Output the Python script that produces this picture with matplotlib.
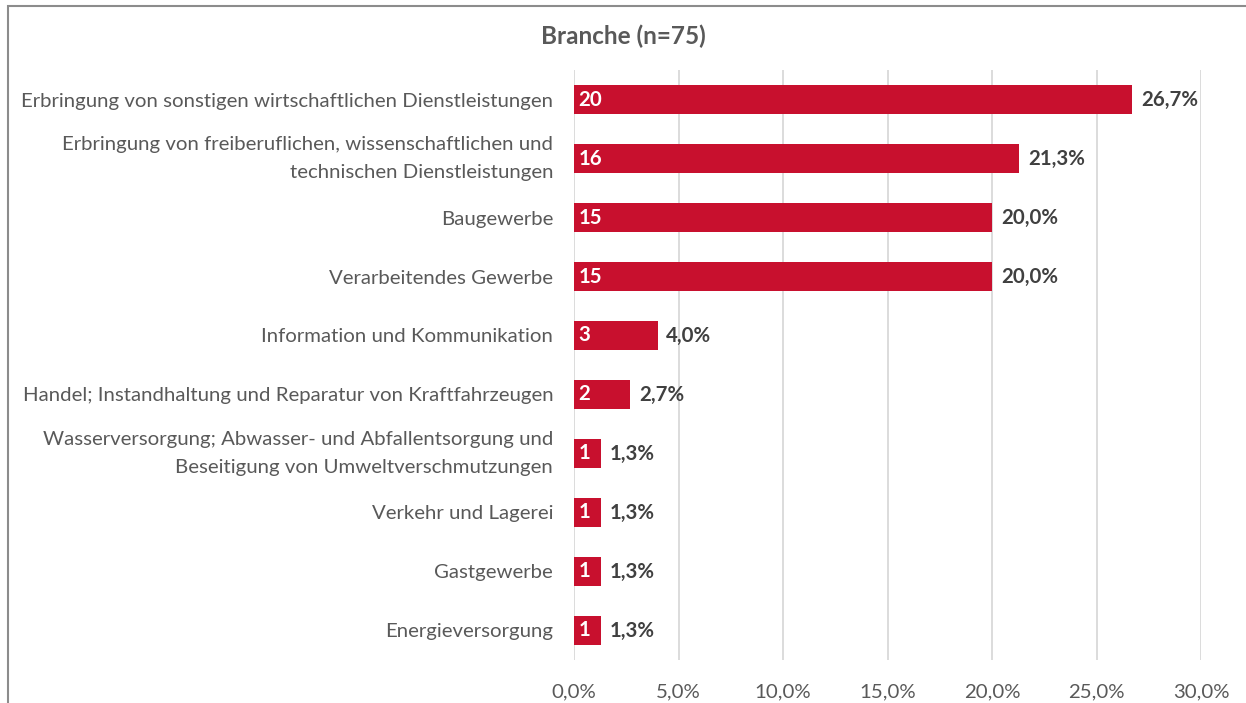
import matplotlib.pyplot as plt
from matplotlib.patches import Rectangle

plt.rcParams.update({
    "font.family": ["Lato", "DejaVu Sans"],
    "font.size": 14.7,
})

categories = [
    "Erbringung von sonstigen wirtschaftlichen Dienstleistungen",
    "Erbringung von freiberuflichen, wissenschaftlichen und\ntechnischen Dienstleistungen",
    "Baugewerbe",
    "Verarbeitendes Gewerbe",
    "Information und Kommunikation",
    "Handel; Instandhaltung und Reparatur von Kraftfahrzeugen",
    "Wasserversorgung; Abwasser- und Abfallentsorgung und\nBeseitigung von Umweltverschmutzungen",
    "Verkehr und Lagerei",
    "Gastgewerbe",
    "Energieversorgung",
]
counts = [20, 16, 15, 15, 3, 2, 1, 1, 1, 1]
percents = [26.7, 21.3, 20.0, 20.0, 4.0, 2.7, 1.3, 1.3, 1.3, 1.3]
xticks = [0, 5, 10, 15, 20, 25, 30]

RED = "#C8102E"
GRAY = "#595959"


def main():
    fig = plt.figure(figsize=(12.46, 7.03), dpi=100)
    ax = fig.add_axes([0.4607, 0.0612, 0.5032, 0.8392])

    y = list(range(len(categories)))
    ax.barh(y, percents, height=0.49, color=RED, zorder=3)
    ax.set_ylim(len(categories) - 0.5, -0.5)
    ax.set_xlim(0, 30)

    for yi, c, p in zip(y, counts, percents):
        ax.text(0.2, yi, str(c), color="white", fontweight="bold",
                va="center", ha="left", zorder=4)
        ax.text(p + 0.42, yi, f"{p:.1f}%".replace(".", ","), color="#404040",
                fontweight="bold", va="center", ha="left", zorder=4)

    ax.set_yticks(y)
    ax.set_yticklabels(categories, color=GRAY, ha="right", linespacing=1.75)
    # two-line labels centred on the bar like the single ones
    for lbl in ax.get_yticklabels():
        if "\n" in lbl.get_text():
            lbl.set_va("center")
    ax.set_xticks(xticks)
    ax.set_xticklabels([f"{t:.1f}%".replace(".", ",") for t in xticks], color=GRAY)
    ax.tick_params(axis="both", length=0)
    ax.tick_params(axis="x", pad=17)
    ax.tick_params(axis="y", pad=15)

    ax.grid(axis="x", color="#D9D9D9", linewidth=1.3, zorder=0)
    for s in ax.spines.values():
        s.set_visible(False)

    fig.text(0.5, 1 - 36 / 703, "Branche (n=75)", ha="center", va="center",
             fontsize=17.5, fontweight="bold", color=GRAY)

    fig.patches.append(Rectangle((8 / 1246, -0.1), 1.2, 1 - 6 / 703 + 0.1,
                                 transform=fig.transFigure, fill=False,
                                 edgecolor="#8C8C8C", linewidth=1.5))

    fig.savefig("out.png", dpi=100)


if __name__ == "__main__":
    main()
